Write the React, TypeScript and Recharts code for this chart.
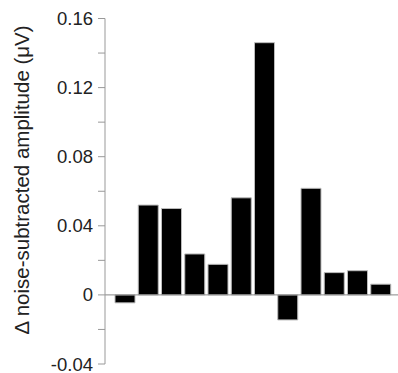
import React from 'react';
import { BarChart, Bar, XAxis, YAxis, ReferenceLine } from 'recharts';

const categories = ['1', '2', '3', '4', '5', '6', '7', '8', '9', '10', '11', '12'];
const amplitudes = [-0.0046, 0.052, 0.05, 0.0237, 0.0177, 0.0562, 0.146, -0.0145, 0.0617, 0.0129, 0.014, 0.0062];
const yTicks = [-0.04, -0.02, 0, 0.02, 0.04, 0.06, 0.08, 0.1, 0.12, 0.14, 0.16];
const yTickLabels = ['-0.04', '', '0', '', '0.04', '', '0.08', '', '0.12', '', '0.16'];
const yAxisTitle = 'Δ noise-subtracted amplitude (μV)';

const data = categories.map((c, i) => ({ name: c, value: amplitudes[i] }));

const FONT = '"Liberation Sans", Arial, sans-serif';

const AxisTitle = () => (
  <text
    x={29}
    y={180}
    transform="rotate(-90, 29, 180)"
    textAnchor="middle"
    fontFamily={FONT}
    fontSize={20.5}
    fill="#222"
  >
    {yAxisTitle}
  </text>
);

export default function App() {
  return (
    <div style={{ position: 'absolute', left: 0, top: 0, width: 398, height: 373, background: '#fff' }}>
      <BarChart
        width={398}
        height={373}
        data={data}
        margin={{ top: 18.5, right: 0, bottom: 9, left: 0 }}
      >
        <XAxis dataKey="name" hide padding={{ left: 8, right: 6 }} />
        <YAxis
          width={105}
          domain={[-0.04, 0.16]}
          ticks={yTicks}
          interval={0}
          tickSize={7}
          tickMargin={5}
          stroke="#999"
          tickLine={{ stroke: '#999' }}
          axisLine={{ stroke: '#999' }}
          tick={{ fill: '#222', fontSize: 18.5, fontFamily: FONT }}
          tickFormatter={(v: number) => {
            const idx = yTicks.findIndex((t) => Math.abs(t - v) < 1e-9);
            return idx >= 0 ? yTickLabels[idx] : '';
          }}
        />
        <ReferenceLine y={0} stroke="#888" strokeWidth={1} />
        <Bar dataKey="value" fill="#000" stroke="#bbb" strokeWidth={1} barSize={20} isAnimationActive={false} />
        <AxisTitle />
      </BarChart>
    </div>
  );
}
